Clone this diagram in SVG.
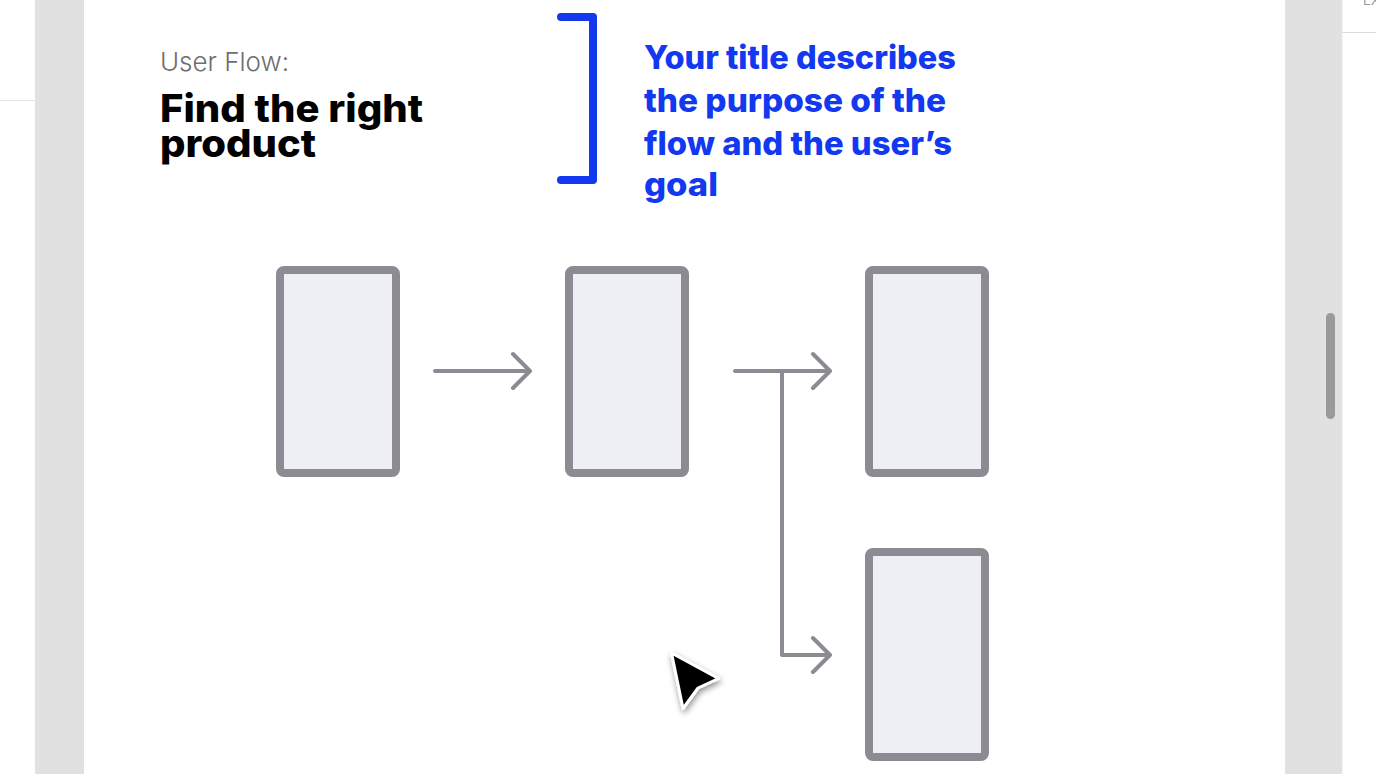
<svg xmlns="http://www.w3.org/2000/svg" width="1376" height="774" viewBox="0 0 1376 774">
<style>
.screen{fill:#eeeff4;stroke:#8c8b94;stroke-width:8;}
.conn{fill:none;stroke:#8c8b94;stroke-width:4;stroke-linecap:round;stroke-linejoin:round;}
.blue{font-family:Inter,"Noto Sans","Liberation Sans",sans-serif;font-weight:800;font-size:33px;fill:#1238f0;}
.title{font-family:Inter,"Noto Sans","Liberation Sans",sans-serif;font-weight:800;font-size:38px;fill:#000;}
.sub{font-family:Inter,"Noto Sans","Liberation Sans",sans-serif;font-weight:300;font-size:26px;fill:#6e6e6e;}
</style>
<defs>
<filter id="sh" x="-50%" y="-50%" width="200%" height="200%">
<feGaussianBlur in="SourceAlpha" stdDeviation="3"/>
<feOffset dx="1" dy="3" result="b"/>
<feComponentTransfer><feFuncA type="linear" slope="0.45"/></feComponentTransfer>
<feMerge><feMergeNode/><feMergeNode in="SourceGraphic"/></feMerge>
</filter>
</defs>
<rect x="0" y="0" width="1376" height="774" fill="#ffffff"/>
<g id="chrome">
<rect x="35" y="0" width="49" height="774" fill="#e1e1e1"/>
<rect x="1285" y="0" width="57" height="774" fill="#e1e1e1"/>
<line x1="0" y1="100.5" x2="35" y2="100.5" stroke="#e3e3e3" stroke-width="1"/>
<line x1="1342" y1="32.5" x2="1376" y2="32.5" stroke="#dcdcdc" stroke-width="1"/>
<line x1="1342" y1="0" x2="1342" y2="774" stroke="#e8e8e8" stroke-width="1"/>
<rect x="1326" y="313" width="9" height="106" rx="4.5" fill="#9a9a9a"/>
<text x="1363" y="5" font-family="Inter,'Liberation Sans',sans-serif" font-size="13" fill="#9a9a9a">EX</text>
</g>
<g id="header">
<text class="sub" x="160" y="71" textLength="129" lengthAdjust="spacingAndGlyphs">User Flow:</text>
<text class="title" x="160" y="122" textLength="263" lengthAdjust="spacingAndGlyphs">Find the right</text>
<text class="title" x="160" y="157" textLength="156" lengthAdjust="spacingAndGlyphs">product</text>
</g>
<g id="annotation">
<path d="M561 17 H593 V180 H561" fill="none" stroke="#1238f0" stroke-width="8" stroke-linecap="round" stroke-linejoin="round"/>
<text class="blue" x="644" y="69" textLength="312" lengthAdjust="spacingAndGlyphs">Your title describes</text>
<text class="blue" x="644" y="112" textLength="302" lengthAdjust="spacingAndGlyphs">the purpose of the</text>
<text class="blue" x="644" y="155" textLength="308" lengthAdjust="spacingAndGlyphs">flow and the user’s</text>
<text class="blue" x="644" y="196" textLength="74" lengthAdjust="spacingAndGlyphs">goal</text>
</g>
<g id="node1"><rect class="screen" x="280" y="270" width="116" height="203" rx="4"/></g>
<g id="node2"><rect class="screen" x="569" y="270" width="116" height="203" rx="4"/></g>
<g id="node3"><rect class="screen" x="869" y="270" width="116" height="203" rx="4"/></g>
<g id="node4"><rect class="screen" x="869" y="552" width="116" height="205" rx="4"/></g>
<g id="connectors">
<path class="conn" d="M435 371 H530 M513 354 L530 371 L513 388"/>
<path class="conn" d="M735 371 H830 M813 354 L830 371 L813 388"/>
<path class="conn" d="M782 371 V655 H830 M813 638 L830 655 L813 672"/>
</g>
<g id="cursor" filter="url(#sh)">
<path d="M671.5 653 L718.5 678.5 L698 688 L683 708.5 Z" fill="#000" stroke="#fff" stroke-width="3" stroke-linejoin="round"/>
</g>
</svg>
